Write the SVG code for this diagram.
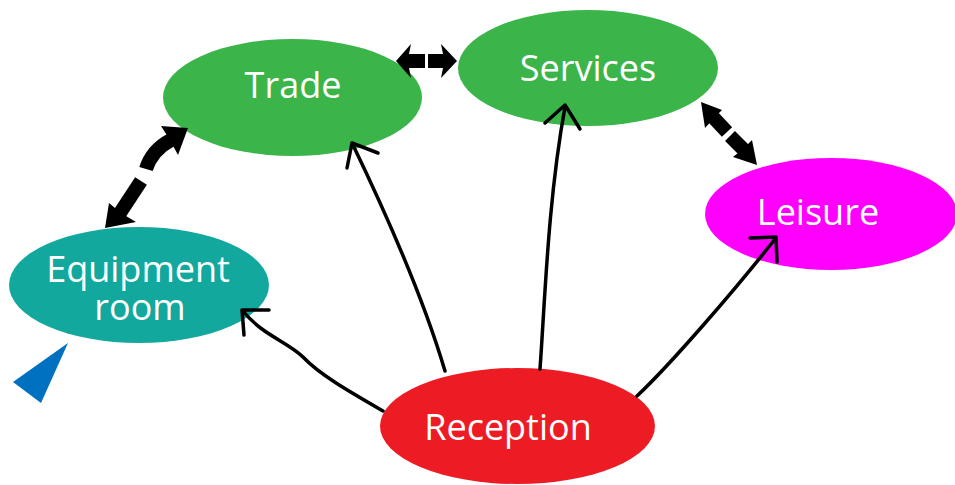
<svg xmlns="http://www.w3.org/2000/svg" width="955" height="485" viewBox="0 0 955 485">
<style>
.lbl{font-family:"Open Sans","Noto Sans",sans-serif;font-size:36px;fill:#ffffff;text-anchor:middle}
.thin{fill:none;stroke:#000;stroke-width:3.5;stroke-linecap:round;stroke-linejoin:round}
.thick{fill:none;stroke:#000;stroke-width:14;stroke-linecap:butt}
.head{fill:#000}
</style>
<rect width="955" height="485" fill="#ffffff"/>
<g id="trade">
  <ellipse cx="292.5" cy="97.5" rx="129.5" ry="58.5" fill="#3bb54a"/>
  <text class="lbl" x="293" y="98">Trade</text>
</g>
<g id="services">
  <ellipse cx="588" cy="68" rx="130" ry="58" fill="#3bb54a"/>
  <text class="lbl" x="588" y="81">Services</text>
</g>
<g id="leisure">
  <ellipse cx="831" cy="214" rx="126" ry="56" fill="#ff00ff"/>
  <text class="lbl" x="818" y="225">Leisure</text>
</g>
<g id="equipment">
  <ellipse cx="139" cy="285" rx="130" ry="58" fill="#13a89e"/>
  <text class="lbl"><tspan x="138" y="282">Equipment</tspan><tspan x="140" y="320">room</tspan></text>
</g>
<g id="reception">
  <ellipse cx="517.5" cy="426" rx="137.5" ry="58" fill="#ed1c24"/>
  <text class="lbl" x="508" y="440">Reception</text>
</g>
<polygon id="pointer" points="68,343 13,382 41,403" fill="#0070c0"/>
<g id="connectors">
  <!-- thin arrows from Reception -->
  <path class="thin" d="M383,411 C350,392 320,375 303,357 C288,342 262,335 243,311"/>
  <path class="thin" d="M269,310 L242,310 L244,335"/>
  <path class="thin" d="M445,371 Q418,280 353,145"/>
  <path class="thin" d="M378,153 L352,143 L347,168"/>
  <path class="thin" d="M540,369 C545,300 548,200 565,107"/>
  <path class="thin" d="M545,123 L565,105 L580,129"/>
  <path class="thin" d="M637,396 C670,365 735,290 775,239"/>
  <path class="thin" d="M750,238 L776,237 L777,262"/>
  <!-- Trade <-> Services -->
  <polygon class="head" points="396,61 411,44 409,54 425,54 425,68 409,68 411,78"/>
  <polygon class="head" points="428,54 443,54 441,44 457,61 441,78 443,68 428,68"/>
  <!-- Trade <-> Equipment room -->
  <path class="thick" d="M146,169 Q152,150 171,140"/>
  <polygon class="head" points="188,128 161,126 170,140 178,155"/>
  <path class="thick" d="M141,181 L120,213"/>
  <polygon class="head" points="105,228 109,203 121,213 136,222"/>
  <!-- Services <-> Leisure -->
  <path class="thick" d="M712,116 L727,132"/>
  <polygon class="head" points="701,102 705,128 714,118 722,110"/>
  <path class="thick" d="M730,136 L745,151"/>
  <polygon class="head" points="757,165 733,157 743,149 752,140"/>
</g>
</svg>
